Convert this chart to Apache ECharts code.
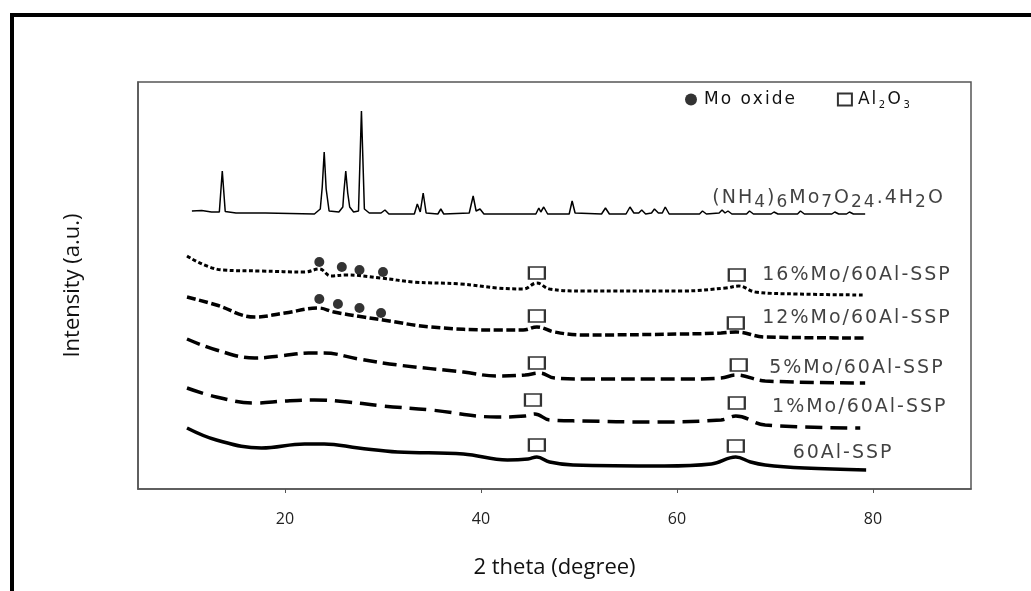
<!DOCTYPE html>
<html lang="en">
<head>
    <meta charset="UTF-8">
    <title>XRD patterns</title>
    <script src="https://cdn.jsdelivr.net/npm/echarts@6/dist/echarts.min.js"></script>
    <style type="text/css">
        html, body { margin: 0; padding: 0; background: #fff; }
        #main { width: 1031px; height: 591px; }
    </style>
</head>
<body>
<div id="main"></div>
<script>
    // 2 theta (degree), intensity (a.u., offset per pattern)
    const amt = [[10.5, 278], [11.5, 278.5], [12.5, 277], [13.3, 277], [13.6, 318], [13.9, 277.5], [15, 276],
        [18, 276], [18.2, 275], [23, 275], [23.6, 280], [23.8, 302], [24.0, 337], [24.2, 300], [24.5, 278],
        [25.5, 277], [25.9, 282], [26.0, 296], [26.2, 318], [26.4, 296], [26.6, 282], [27.0, 277], [27.5, 278],
        [27.8, 378], [28.1, 280], [28.6, 276], [29.8, 276], [30.2, 279], [30.6, 275], [33.2, 275], [33.5, 285],
        [33.8, 277], [34.1, 296], [34.4, 276], [35.6, 275], [35.9, 280], [36.2, 275], [38.8, 276], [39.2, 293],
        [39.5, 278], [39.9, 280], [40.3, 275], [42.0, 275], [42.2, 276], [45.6, 275], [45.9, 281], [46.1, 277],
        [46.4, 282], [46.8, 275], [49.0, 275], [49.3, 288], [49.6, 276], [52.3, 275], [52.7, 281], [53.1, 275],
        [54.8, 275], [55.2, 282], [55.6, 276], [56.1, 276], [56.4, 279], [56.8, 275], [57.4, 276], [57.7, 280],
        [58.1, 276], [58.5, 276], [58.8, 282], [59.2, 275], [62.3, 275], [62.6, 278], [63.0, 275], [64.3, 276],
        [64.6, 279], [64.9, 276], [65.2, 278], [65.6, 275], [67.1, 275], [67.4, 278], [67.8, 275], [69.6, 275],
        [69.9, 277], [70.3, 275], [72.3, 275], [72.6, 278], [73.0, 275], [75.8, 275], [76.1, 277], [76.5, 275],
        [77.3, 275], [77.6, 277], [78.0, 275], [79.2, 275]];
    const mo16 = [[10, 233], [13.6, 219], [17.6, 218], [22, 217], [23.5, 220], [24.7, 213], [26.2, 214],
        [29.8, 211], [33.1, 207], [37.9, 205], [41.7, 201], [44.3, 200], [45.7, 206], [47, 200], [50.4, 198],
        [60.5, 198], [65, 201], [66.3, 203], [68, 197], [72.4, 195], [79, 194]];
    const mo12 = [[10, 192], [13, 184], [16.9, 172], [20, 176], [23.4, 181], [25, 177], [28, 172], [30, 169],
        [34.9, 162], [41.6, 159], [44.3, 159], [45.7, 162], [47.5, 157], [50.4, 154], [60.5, 155], [64.5, 156],
        [66, 157], [69, 152], [79.2, 151]];
    const mo5 = [[10, 150], [13, 139], [16.9, 131], [19.5, 133], [22.4, 136], [24, 136], [27.5, 130],
        [31.5, 124], [38.2, 117], [41.6, 113], [44.5, 114], [46, 116], [47.5, 111], [50.4, 110], [60.5, 110],
        [64.5, 111], [66, 114], [69, 108], [79.2, 106]];
    const mo1 = [[10, 101], [13, 92], [16.9, 86], [20, 88], [23, 89], [26.4, 87], [30, 83], [34.9, 79],
        [41.6, 72], [44.5, 73], [45.5, 75], [47, 69], [50.4, 68], [57.2, 67], [64.5, 69], [66, 73], [69, 64],
        [78.7, 61]];
    const al60 = [[10, 61], [13, 49], [17.6, 41], [22, 45], [24, 45], [27.5, 41], [31.5, 37], [38.2, 35],
        [42.7, 29], [44.8, 30], [45.7, 32], [47, 27], [49.4, 24], [58.7, 23], [63.5, 25], [66, 32], [67.5, 27],
        [69, 24], [73, 21], [79.3, 19]];
    const moOxide = [[23.5, 227], [25.8, 222], [27.6, 219], [30, 217], [23.5, 190], [25.4, 185], [27.6, 181], [29.8, 176]];
    const alumina = [[45.7, 216], [66.1, 214], [45.7, 173], [66, 166], [45.7, 126], [66.3, 124], [45.3, 89], [66.1, 86],
        [45.7, 44], [66, 43]];
    // label anchor (2 theta, intensity) and text; '_' marks a subscript piece
    const labelPos = [[63.5, 291], [68.6, 214], [68.6, 171], [69.3, 121], [69.6, 82], [71.7, 36]];
    const labelText = ['(NH|_4|)|_6|Mo|_7|O|_24|.4H|_2|O', '16%Mo/60Al-SSP', '12%Mo/60Al-SSP', '5%Mo/60Al-SSP',
        '1%Mo/60Al-SSP', '60Al-SSP'];
    const legendText = {'Mo oxide': 'Mo oxide', 'Al2O3': 'Al|_2|O|_3'};
    const xTicks = [20, 40, 60, 80];

    const FONT = 'DejaVu Sans';

    // one rich token per character so the text gets a little letter spacing
    function spaced(str) {
        return str.split('|').map(function (piece) {
            var st = 't';
            if (piece.charAt(0) === '_') { st = 's'; piece = piece.slice(1); }
            return piece.split('').map(function (c) { return '{' + st + '|' + c + '}'; }).join('');
        }).join('');
    }

    function pattern(name, data, type, width, smooth) {
        return {
            name: name,
            type: 'line',
            data: data,
            smooth: smooth,
            symbol: 'none',
            silent: true,
            lineStyle: {color: '#000', width: width, type: type}
        };
    }

    var myChart = echarts.init(document.getElementById('main'));

    var option = {
        animation: false,
        backgroundColor: '#fff',
        graphic: [
            {type: 'line', shape: {x1: 10, y1: 15, x2: 1031, y2: 15}, style: {stroke: '#000', lineWidth: 4}},
            {type: 'line', shape: {x1: 12, y1: 13, x2: 12, y2: 591}, style: {stroke: '#000', lineWidth: 4}}
        ],
        grid: {left: 138, top: 82, right: 60, bottom: 102, show: true, borderColor: '#555', borderWidth: 1.5},
        legend: {
            left: 680, top: 86,
            itemGap: 42,
            itemWidth: 14, itemHeight: 12,
            data: ['Mo oxide', 'Al2O3'],
            formatter: function (n) { return spaced(legendText[n]); },
            textStyle: {
                rich: {
                    t: {fontFamily: FONT, fontSize: 17, color: '#111', padding: [0, 1, 0, 1]},
                    s: {fontFamily: FONT, fontSize: 10, color: '#111', padding: [11, 1.5, 0, 1.5]}
                }
            }
        },
        xAxis: {
            type: 'value',
            min: 5, max: 90,
            name: '2 theta (degree)',
            nameLocation: 'middle',
            nameGap: 68,
            nameTextStyle: {fontFamily: 'Open Sans', fontSize: 22, color: '#111'},
            splitLine: {show: false},
            axisLine: {lineStyle: {color: '#555', width: 1.5}},
            axisTick: {customValues: xTicks, length: 4, lineStyle: {color: '#555'}},
            axisLabel: {customValues: xTicks, margin: 22, fontFamily: 'Open Sans', fontSize: 16, color: '#222'}
        },
        yAxis: {
            type: 'value',
            min: 0, max: 407,
            name: 'Intensity (a.u.)',
            nameLocation: 'middle',
            nameGap: 54,
            nameTextStyle: {fontFamily: 'Open Sans', fontSize: 22, color: '#111'},
            splitLine: {show: false},
            axisLine: {show: true, lineStyle: {color: '#555', width: 1.5}},
            axisTick: {show: false},
            axisLabel: {show: false}
        },
        series: [
            pattern('(NH4)6Mo7O24.4H2O', amt, 'solid', 1.5, false),
            pattern('16%Mo/60Al-SSP', mo16, [4, 2.5], 3, 0.4),
            pattern('12%Mo/60Al-SSP', mo12, [9, 3.5], 3.5, 0.4),
            pattern('5%Mo/60Al-SSP', mo5, [14, 6], 3.5, 0.4),
            pattern('1%Mo/60Al-SSP', mo1, [17, 8], 3.5, 0.4),
            pattern('60Al-SSP', al60, 'solid', 3.5, 0.4),
            {
                name: 'Mo oxide',
                type: 'scatter',
                data: moOxide,
                symbol: 'circle',
                symbolSize: 10,
                itemStyle: {color: '#000'}
            },
            {
                name: 'Al2O3',
                type: 'scatter',
                data: alumina,
                symbol: 'rect',
                symbolSize: [16, 12],
                itemStyle: {color: '#fff', borderColor: '#000', borderWidth: 2}
            },
            {
                name: 'labels',
                type: 'scatter',
                data: labelPos.map(function (p, i) { return [p[0], p[1], labelText[i]]; }),
                symbolSize: 0,
                silent: true,
                label: {
                    show: true,
                    position: 'right',
                    distance: 0,
                    formatter: function (p) { return spaced(p.data[2]); },
                    rich: {
                        t: {fontFamily: FONT, fontSize: 19, color: '#111', padding: [0, 1, 0, 1]},
                        s: {fontFamily: FONT, fontSize: 17, color: '#111', padding: [10, 1, 0, 1]}
                    }
                }
            }
        ]
    };

    myChart.setOption(option);
</script>
</body>
</html>
